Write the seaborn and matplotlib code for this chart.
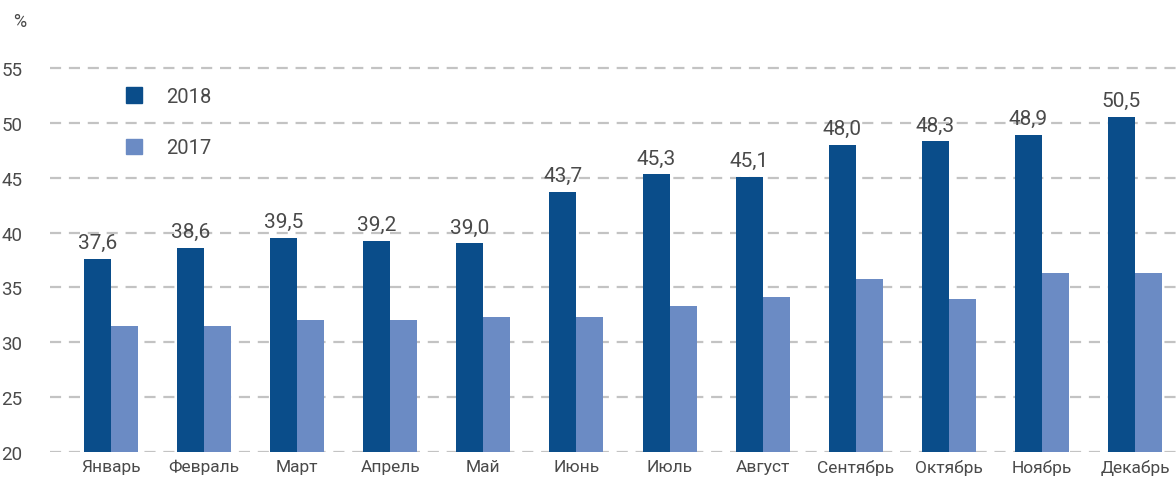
import pandas as pd
import matplotlib.pyplot as plt
import seaborn as sns
from matplotlib.patches import Patch

sns.set_style("white")
plt.rcParams["font.family"] = ["Roboto", "DejaVu Sans"]

months = ["Январь", "Февраль", "Март", "Апрель", "Май", "Июнь",
          "Июль", "Август", "Сентябрь", "Октябрь", "Ноябрь", "Декабрь"]
v2018 = [37.6, 38.6, 39.5, 39.2, 39.0, 43.7, 45.3, 45.1, 48.0, 48.3, 48.9, 50.5]
v2017 = [31.5, 31.5, 32.0, 32.0, 32.3, 32.3, 33.3, 34.1, 35.8, 33.9, 36.3, 36.3]
years = ["2018", "2017"]
colors = {"2018": "#0a4d8a", "2017": "#6b8bc4"}
text_color = "#4a4a4a"

df = pd.DataFrame({
    "Месяц": months * 2,
    "Значение": v2018 + v2017,
    "Год": ["2018"] * len(months) + ["2017"] * len(months),
})

fig = plt.figure(figsize=(11.76, 4.85), dpi=100)
ax = fig.add_axes([50 / 1176, 32 / 485, 1126 / 1176, (453 - 25) / 485])

sns.barplot(data=df, x="Месяц", y="Значение", hue="Год", hue_order=years,
            palette=colors, width=0.58, gap=0, saturation=1, linewidth=0,
            ax=ax, legend=False)

# подписи над столбцами 2018
for i, v in enumerate(v2018):
    ax.annotate(f"{v:.1f}".replace(".", ","), xy=(i - 0.145, v), xytext=(0, 5),
                textcoords="offset points", ha="center", va="bottom",
                fontsize=15, color=text_color)

ax.set_ylim(20, 59)
ax.set_xlim(-0.655, 11.44)
ax.set_yticks(range(20, 56, 5))
ax.set_xlabel("")
ax.set_ylabel("")
ax.yaxis.grid(True, linestyle=(0, (5, 3.5)), color="#c3c3c3", linewidth=1.6)
ax.set_axisbelow(True)
for s in ax.spines.values():
    s.set_visible(False)
ax.tick_params(axis="y", length=0, pad=20, labelsize=13.5, labelcolor=text_color)
ax.tick_params(axis="x", length=0, pad=5, labelsize=12.5, labelcolor=text_color)

fig.text(20 / 1176, 1 - 22 / 485, "%", fontsize=13, color=text_color,
         ha="center", va="center")

handles = [Patch(color=colors[y], label=y) for y in years]
ax.legend(handles=handles, frameon=False, loc="upper left",
          bbox_to_anchor=(0.051, 0.895), fontsize=14.5, handlelength=0.8,
          handleheight=0.8, handletextpad=1.2, labelspacing=1.6,
          labelcolor=text_color)

plt.savefig("out.png", dpi=100)
